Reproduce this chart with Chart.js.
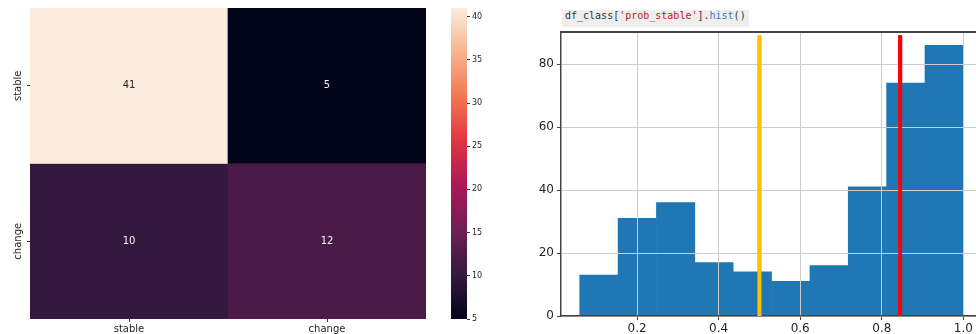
<!DOCTYPE html>
<html>
<head>
<meta charset="utf-8">
<script src="https://cdn.jsdelivr.net/npm/chart.js@4.4.1/dist/chart.umd.min.js"></script>
<style>
  html, body { margin: 0; padding: 0; background: #fff; width: 976px; height: 334px; overflow: hidden; }
  .box { position: absolute; }
  #code { position: absolute; left: 562px; top: 10px; height: 17px; line-height: 17px; padding: 0 3px;
          background: #eeeeee; font: 10px "DejaVu Sans Mono", monospace; color: #333; white-space: pre; }
  .str { color: #ba2121; }
  .fn { color: #3a7bbf; }
</style>
</head>
<body>
<div class="box" style="left:0;top:0;width:440px;height:334px"><canvas id="heat"></canvas></div>
<div class="box" style="left:440px;top:0;width:60px;height:334px"><canvas id="cbar"></canvas></div>
<div class="box" style="left:500px;top:0;width:476px;height:334px"><canvas id="hist"></canvas></div>
<div id="code">df_class[<span class="str">'prob_stable'</span>].<span class="fn">hist</span>()</div>

<script>
// confusion matrix
const classes = ['stable', 'change'];
const matrix = [[41, 5], [10, 12]];
const cbarTicks = [5, 10, 15, 20, 25, 30, 35, 40];

// histogram of prob_stable
const binEdges = [0.0594, 0.1535, 0.2475, 0.3416, 0.4356, 0.5297, 0.6238, 0.7178, 0.8119, 0.9059, 1.0];
const counts = [13, 31, 36, 17, 14, 11, 16, 41, 74, 86];
const xTicks = [0.2, 0.4, 0.6, 0.8, 1.0];
const yTicks = [0, 20, 40, 60, 80];
const thresholds = [0.5, 0.845];

const vmin = 5, vmax = 41;

// seaborn "rocket" colour stops
const rocket = [
  [0, '#03051a'], [0.143, '#35193e'], [0.286, '#701f57'], [0.429, '#ad1759'],
  [0.571, '#e13342'], [0.714, '#f37651'], [0.857, '#f6b48f'], [1, '#faebdd']
];

function hexToRgb(h) {
  return [parseInt(h.slice(1, 3), 16), parseInt(h.slice(3, 5), 16), parseInt(h.slice(5, 7), 16)];
}
function rocketColor(v) {
  const t = Math.max(0, Math.min(1, (v - vmin) / (vmax - vmin)));
  for (let i = 1; i < rocket.length; i++) {
    if (t <= rocket[i][0]) {
      const [p0, c0] = rocket[i - 1], [p1, c1] = rocket[i];
      const f = (t - p0) / (p1 - p0);
      const a = hexToRgb(c0), b = hexToRgb(c1);
      const c = a.map((x, k) => Math.round(x + (b[k] - x) * f));
      return `rgb(${c[0]},${c[1]},${c[2]})`;
    }
  }
  return rocket[rocket.length - 1][1];
}

const font = 'DejaVu Sans';

// ---------- heatmap ----------
const cellLabels = {
  id: 'cellLabels',
  afterDatasetsDraw(chart) {
    const ctx = chart.ctx;
    ctx.save();
    ctx.font = `10px "${font}"`;
    ctx.textAlign = 'center';
    ctx.textBaseline = 'middle';
    chart.data.datasets.forEach((ds, r) => {
      chart.getDatasetMeta(r).data.forEach((bar, c) => {
        const v = matrix[r][c];
        ctx.fillStyle = v > 30 ? '#262626' : '#f2f2f2';
        ctx.fillText(String(v), bar.x, (bar.y + bar.base) / 2);
      });
    });
    ctx.restore();
  }
};

const rowLabels = {
  id: 'rowLabels',
  afterDraw(chart) {
    const ctx = chart.ctx;
    const y = chart.scales.y;
    ctx.save();
    ctx.font = `10px "${font}"`;
    ctx.fillStyle = '#262626';
    ctx.textAlign = 'center';
    ctx.textBaseline = 'middle';
    classes.forEach((name, i) => {
      ctx.save();
      ctx.translate(18, y.getPixelForValue(i + 0.5));
      ctx.rotate(-Math.PI / 2);
      ctx.fillText(name, 0, 0);
      ctx.restore();
    });
    ctx.restore();
  }
};

new Chart(document.getElementById('heat'), {
  type: 'bar',
  data: {
    labels: classes,
    datasets: matrix.map((row, r) => ({
      label: classes[r],
      data: row.map(() => [r, r + 1]),
      backgroundColor: row.map(v => rocketColor(v)),
      borderWidth: 0,
      grouped: false,
      barPercentage: 1,
      categoryPercentage: 1
    }))
  },
  options: {
    responsive: true,
    maintainAspectRatio: false,
    animation: false,
    layout: { padding: { top: 8, right: 14, left: 0, bottom: 0 } },
    plugins: { legend: { display: false }, tooltip: { enabled: false } },
    scales: {
      x: {
        grid: { drawOnChartArea: false, offset: false, tickLength: 3, tickColor: '#333' },
        border: { display: false },
        ticks: { font: { family: font, size: 10 }, color: '#262626', padding: 1, maxRotation: 0 },
        afterFit(s) { s.height = 15; }
      },
      y: {
        min: 0, max: 2, reverse: true,
        afterBuildTicks(s) { s.ticks = classes.map((c, i) => ({ value: i + 0.5 })); },
        grid: { drawOnChartArea: false, tickLength: 3, tickColor: '#333' },
        border: { display: false },
        ticks: { display: false },
        afterFit(s) { s.width = 30; }
      }
    }
  },
  plugins: [cellLabels, rowLabels]
});

// ---------- colour bar ----------
new Chart(document.getElementById('cbar'), {
  type: 'bar',
  data: {
    labels: [''],
    datasets: [{
      data: [[vmin, vmax]],
      backgroundColor(ctx) {
        const chart = ctx.chart;
        if (!chart.chartArea) return '#000';
        const y = chart.scales.y;
        const g = chart.ctx.createLinearGradient(0, y.getPixelForValue(vmin), 0, y.getPixelForValue(vmax));
        rocket.forEach(([p, c]) => g.addColorStop(p, c));
        return g;
      },
      borderWidth: 0,
      barPercentage: 1,
      categoryPercentage: 1
    }]
  },
  options: {
    responsive: true,
    maintainAspectRatio: false,
    animation: false,
    layout: { padding: { top: 8, left: 11, bottom: 15, right: 0 } },
    plugins: { legend: { display: false }, tooltip: { enabled: false } },
    scales: {
      x: { display: false },
      y: {
        position: 'right',
        min: vmin, max: vmax,
        afterBuildTicks(s) { s.ticks = cbarTicks.map(v => ({ value: v })); },
        grid: { drawOnChartArea: false, tickLength: 3, tickColor: '#333' },
        border: { display: false },
        ticks: { font: { family: font, size: 8 }, color: '#262626', padding: 2 },
        afterFit(s) { s.width = 33; }
      }
    }
  }
});

// ---------- histogram ----------
const centers = counts.map((c, i) => (binEdges[i] + binEdges[i + 1]) / 2);

const overlay = {
  id: 'overlay',
  afterDraw(chart) {
    const ctx = chart.ctx;
    const a = chart.chartArea;
    // top frame line
    ctx.save();
    ctx.strokeStyle = '#444';
    ctx.lineWidth = 2;
    ctx.beginPath();
    ctx.moveTo(a.left, a.top);
    ctx.lineTo(a.right, a.top);
    ctx.stroke();
    ctx.restore();
    // threshold lines sit above the grid
    chart.data.datasets.forEach((ds, i) => {
      if (ds.type === 'line') {
        ctx.save();
        chart.getDatasetMeta(i).controller.draw();
        ctx.restore();
      }
    });
  }
};

new Chart(document.getElementById('hist'), {
  type: 'bar',
  data: {
    datasets: [
      {
        label: 'prob_stable',
        data: centers.map((x, i) => ({ x: x, y: counts[i] })),
        backgroundColor: '#1f77b4',
        borderWidth: 0,
        barPercentage: 1,
        categoryPercentage: 1
      },
      {
        type: 'line',
        data: [{ x: thresholds[0], y: 0 }, { x: thresholds[0], y: 89.2 }],
        borderColor: '#ffc000',
        borderWidth: 4,
        pointRadius: 0
      },
      {
        type: 'line',
        data: [{ x: thresholds[1], y: 0 }, { x: thresholds[1], y: 89.2 }],
        borderColor: '#ff0000',
        borderWidth: 4,
        pointRadius: 0
      }
    ]
  },
  options: {
    responsive: true,
    maintainAspectRatio: false,
    animation: false,
    layout: { padding: { top: 32, right: 0, left: 0, bottom: 0 } },
    plugins: { legend: { display: false }, tooltip: { enabled: false } },
    scales: {
      x: {
        type: 'linear',
        min: 0.0135, max: 1.031,
        offset: false,
        afterBuildTicks(s) { s.ticks = xTicks.map(v => ({ value: v })); },
        grid: { offset: false, color: '#cccccc', z: 1, tickLength: 4, tickColor: '#444' },
        border: { color: '#444', width: 1.5, z: 2 },
        ticks: { font: { family: font, size: 12 }, color: '#262626', padding: 2, maxRotation: 0,
                 callback: v => v.toFixed(1) },
        afterFit(s) { s.height = 18; }
      },
      y: {
        min: 0, max: 90.2,
        afterBuildTicks(s) { s.ticks = yTicks.map(v => ({ value: v })); },
        grid: { color: '#cccccc', z: 1, tickLength: 4, tickColor: '#444' },
        border: { color: '#444', width: 1.5, z: 2 },
        ticks: { font: { family: font, size: 12 }, color: '#262626', padding: 3 },
        afterFit(s) { s.width = 61; }
      }
    }
  },
  plugins: [overlay]
});
</script>
</body>
</html>
